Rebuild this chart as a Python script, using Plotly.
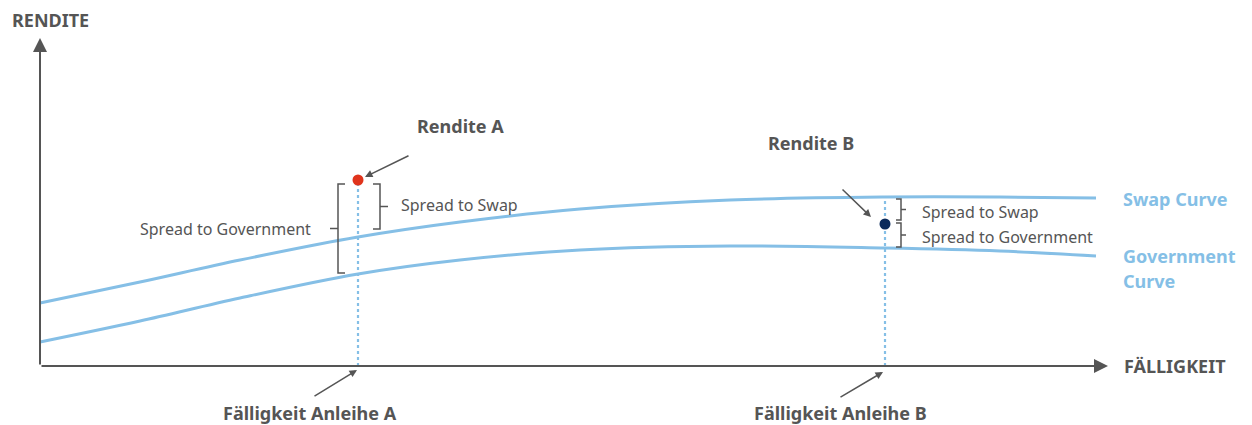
import plotly.graph_objects as go

# Data (x = maturity units, y = yield units; origin at axis crossing)
maturity = [0, 100, 200, 318, 420, 540, 690, 845, 960, 1056]
swap_curve = [63, 84, 106, 129, 144, 157, 166, 169, 169, 168]
gov_curve = [24, 45, 68, 92, 106, 116, 120, 118, 115, 110]

bond_names = ["Rendite A", "Rendite B"]
bond_maturity = [318, 845]
bond_yield = [186, 142]
bond_colors = ["#e0341c", "#0b2a5b"]
bond_swap = [129, 169]
bond_gov = [92, 118]

CURVE = "#85bfe6"
GRAY = "#555555"
FONT = "Noto Sans"

fig = go.Figure()

fig.add_trace(go.Scatter(x=maturity, y=swap_curve, mode="lines",
                         line=dict(color=CURVE, width=3, shape="spline"),
                         hoverinfo="skip"))
fig.add_trace(go.Scatter(x=maturity, y=gov_curve, mode="lines",
                         line=dict(color=CURVE, width=3, shape="spline"),
                         hoverinfo="skip"))

# dotted maturity lines
fig.add_trace(go.Scatter(x=[bond_maturity[0], bond_maturity[0]], y=[0, bond_yield[0] - 5],
                         mode="lines", line=dict(color=CURVE, width=2.2, dash="dot"), hoverinfo="skip"))
fig.add_trace(go.Scatter(x=[bond_maturity[1], bond_maturity[1]], y=[0, bond_swap[1]],
                         mode="lines", line=dict(color=CURVE, width=2.2, dash="dot"), hoverinfo="skip"))

# bond points
fig.add_trace(go.Scatter(x=bond_maturity, y=bond_yield, mode="markers",
                         marker=dict(color=bond_colors, size=11), hoverinfo="skip"))

def bracket(x, ytop, ybot, side, serif=7, tick=8):
    ymid = (ytop + ybot) / 2
    xs = [x - side * serif, x, x, x - side * serif, None, x, x + side * tick]
    ys = [ytop, ytop, ybot, ybot, None, ymid, ymid]
    fig.add_trace(go.Scatter(x=xs, y=ys, mode="lines",
                             line=dict(color=GRAY, width=1.5), hoverinfo="skip"))

# bond A brackets
bracket(298, 182, 93, -1)
bracket(340, 182, 137, +1)
# bond B brackets
bracket(861, 167, 146, +1, serif=5, tick=5)
bracket(861, 143, 119, +1, serif=5, tick=5)

annotations = []

def arrow(x0, y0, x1, y1, head=2, size=1.0, width=1.5):
    annotations.append(dict(x=x1, y=y1, ax=x0, ay=y0, xref="x", yref="y",
                            axref="x", ayref="y", text="", showarrow=True,
                            arrowhead=head, arrowsize=size, arrowwidth=width,
                            arrowcolor=GRAY))

def label(x, y, text, size=16, bold=False, color=GRAY, xanchor="center"):
    annotations.append(dict(x=x, y=y, xref="x", yref="y", text=text, showarrow=False,
                            xanchor=xanchor, yanchor="middle",
                            font=dict(family=FONT, size=size, color=color,
                                      weight=700 if bold else 400)))

# axes arrows
arrow(0, 0, 0, 328, head=2, size=1.4, width=2)
arrow(0, 0, 1068, 0, head=2, size=1.4, width=2)

# pointer arrows
arrow(370, 211, 325, 189)
arrow(801, 178, 831, 149)
arrow(273, -31, 317, -4)
arrow(799, -32, 843, -6)

# labels
label(-30, 346, "RENDITE", size=18, bold=True, xanchor="left")
label(1082, 0, "FÄLLIGKEIT", size=18, bold=True, xanchor="left")
label(420, 240, bond_names[0], size=18, bold=True)
label(771, 223, bond_names[1], size=18, bold=True)
label(270, -47, "Fälligkeit Anleihe A", size=18, bold=True)
label(800, -47, "Fälligkeit Anleihe B", size=18, bold=True)

label(359, 161, "Spread to Swap", xanchor="left")
label(273, 137, "Spread to Government", xanchor="right")
label(880, 154, "Spread to Swap", xanchor="left")
label(880, 129, "Spread to Government", xanchor="left")

label(1081, 167, "Swap Curve", size=18, bold=True, color=CURVE, xanchor="left")
label(1081, 110, "Government", size=18, bold=True, color=CURVE, xanchor="left")
label(1081, 85, "Curve", size=18, bold=True, color=CURVE, xanchor="left")

# page body has an 8px margin: figure occupies page pixels 8..1252 / 8..425
fig.update_layout(
    width=1244, height=417,
    margin=dict(l=0, r=0, t=0, b=0),
    paper_bgcolor="white", plot_bgcolor="white",
    showlegend=False,
    xaxis=dict(range=[-32, 1212], visible=False, fixedrange=True),
    yaxis=dict(range=[-59, 358], visible=False, fixedrange=True),
    annotations=annotations,
)

fig.write_html("out.html")
